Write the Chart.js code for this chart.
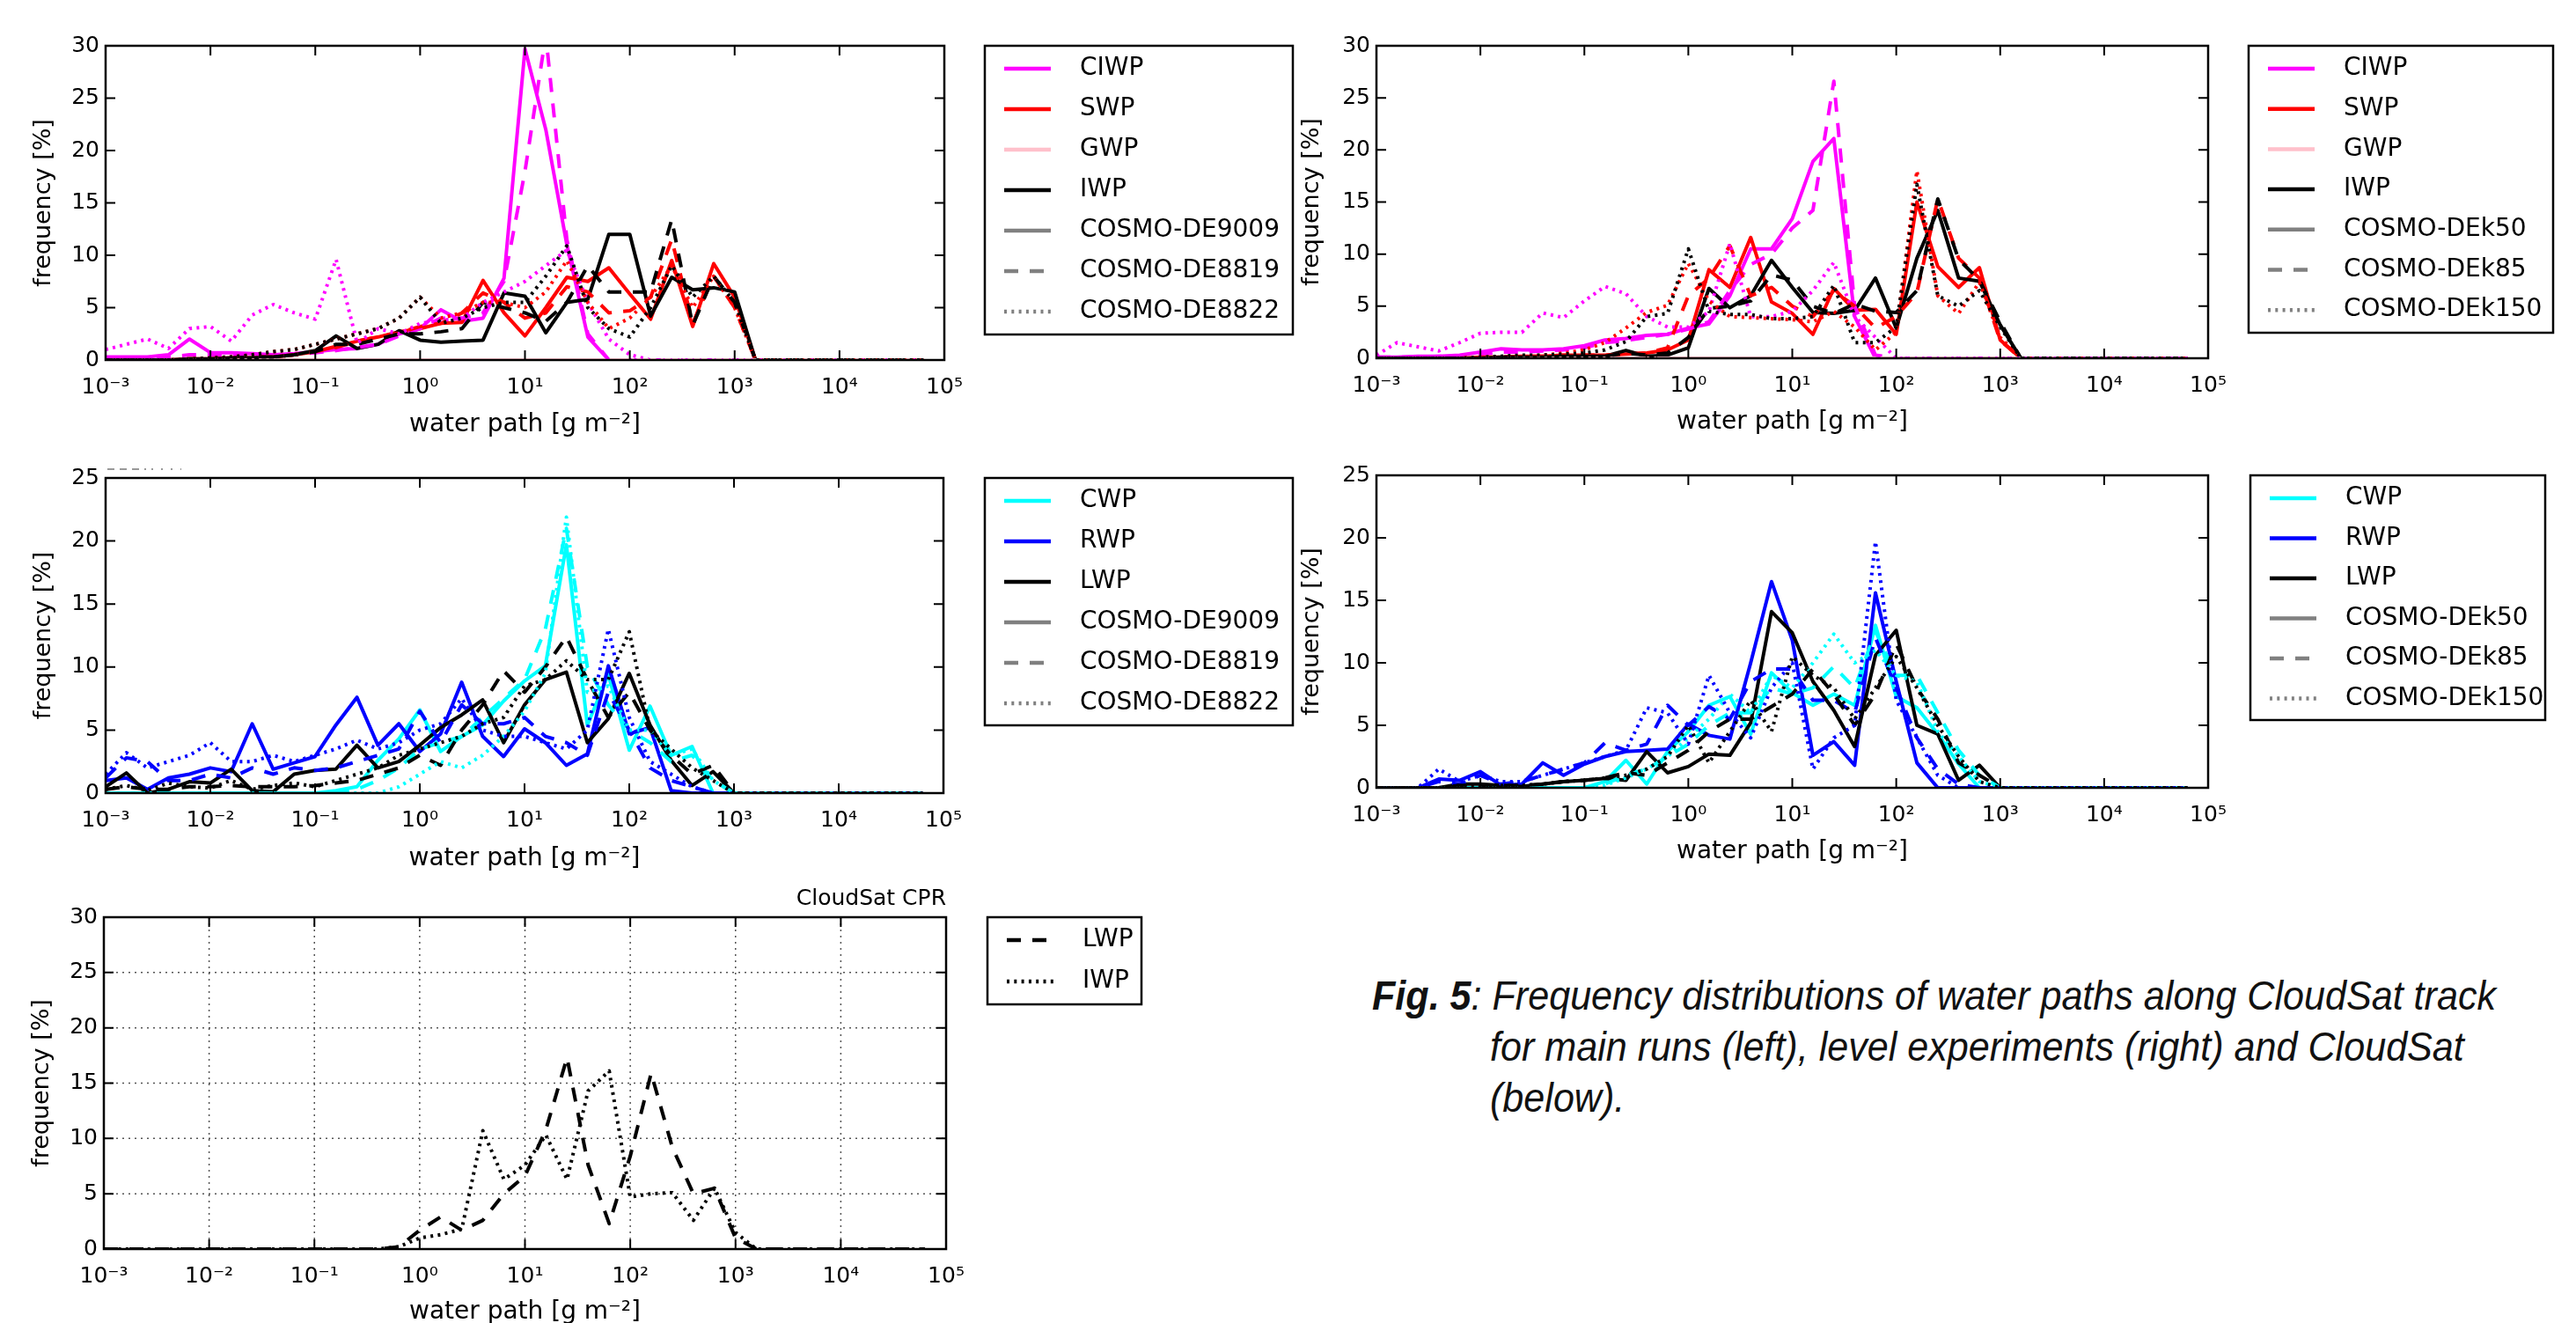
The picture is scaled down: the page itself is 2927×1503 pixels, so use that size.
<!DOCTYPE html>
<html>
<head>
<meta charset="utf-8">
<script src="https://cdn.jsdelivr.net/npm/chart.js@4.4.0/dist/chart.umd.min.js"></script>
<style>
  body { margin: 0; background: #fff; width: 2927px; height: 1503px; overflow: hidden; position: relative; }
  canvas { position: absolute; }
  .cl { position: absolute; white-space: nowrap; font-family: 'Liberation Sans Narrow', 'Liberation Sans', sans-serif;
        font-style: italic; font-size: 46px; line-height: 46px; color: #111; transform-origin: 0 0; }
</style>
</head>
<body>
<canvas id="p1" width="1500" height="510" style="left:0px;top:0px"></canvas>
<canvas id="p2" width="1482" height="510" style="left:1445px;top:0px"></canvas>
<canvas id="p3" width="1500" height="510" style="left:0px;top:490px"></canvas>
<canvas id="p4" width="1482" height="510" style="left:1445px;top:490px"></canvas>
<canvas id="p5" width="1500" height="540" style="left:0px;top:990px"></canvas>

<div class="cl" id="cap1" style="left:1559px;top:1108px"><b>Fig. 5</b>: Frequency distributions of water paths along CloudSat track</div>
<div class="cl" id="cap2" style="left:1693px;top:1166px">for main runs (left), level experiments (right) and CloudSat</div>
<div class="cl" id="cap3" style="left:1693px;top:1224px">(below).</div>

<script>
// bin centres, 5 per decade
const bins = [0.001, 0.00158, 0.00251, 0.00398, 0.00631, 0.01, 0.0158, 0.0251, 0.0398, 0.0631,
              0.1, 0.158, 0.251, 0.398, 0.631, 1, 1.58, 2.51, 3.98, 6.31,
              10, 15.8, 25.1, 39.8, 63.1, 100, 158, 251, 398, 631,
              1000, 1580, 2510, 3980, 6310, 10000, 15800, 25100, 39800, 63100];

const xTickValues = [0.001, 0.01, 0.1, 1, 10, 100, 1000, 10000, 100000];
const xTickLabels = ['10⁻³', '10⁻²', '10⁻¹', '10⁰', '10¹', '10²', '10³', '10⁴', '10⁵'];
const yTicks30 = [0, 5, 10, 15, 20, 25, 30];
const yTicks25 = [0, 5, 10, 15, 20, 25];

// ---- main runs, ice (top left)
const ciwp9009 = [0.3,0.3,0.3,0.5,2.0,0.7,0.7,0.6,0.5,0.6, 0.8,1.0,1.1,1.5,2.5,3.0,4.8,3.7,4.0,7.8, 29.7,22.0,11.0,2.2,0,0,0,0,0,0, 0,0,0,0,0,0,0,0,0,0];
const swp9009  = [0,0,0,0,0.1,0.1,0.2,0.2,0.3,0.5, 0.8,1.3,1.8,2.2,2.7,3.0,3.5,3.6,7.6,4.5, 2.3,5.0,7.9,7.5,8.8,6.3,3.9,9.5,3.2,9.2, 6.0,0,0,0,0,0,0,0,0,0];
const gwp9009  = [0,0,0,0,0,0,0,0,0,0, 0,0,0,0,0,0,0,0,0,0, 0,0,0,0,0,0,0,0,0,0, 0,0,0,0,0,0,0,0,0,0];
const iwp9009  = [0,0,0,0,0.1,0.1,0.2,0.2,0.3,0.5, 0.9,2.3,1.1,1.5,2.8,1.9,1.7,1.8,1.9,6.4, 6.1,2.6,5.5,5.8,12.0,12.0,4.2,7.9,6.7,6.9, 6.5,0,0,0,0,0,0,0,0,0];
const ciwp8819 = [0.2,0.2,0.2,0.3,0.5,0.5,0.5,0.4,0.4,0.5, 0.7,0.9,1.2,1.5,2.3,3.0,4.0,4.0,4.5,7.5, 18.0,31.0,11.5,2.5,0,0,0,0,0,0, 0,0,0,0,0,0,0,0,0,0];
const swp8819  = [0,0,0,0,0.1,0.1,0.2,0.3,0.3,0.5, 0.8,1.2,1.8,2.2,2.6,3.2,3.5,4.5,6.4,5.5, 4.0,4.5,7.0,6.5,4.5,4.7,6.0,11.5,3.5,8.0, 5.0,0,0,0,0,0,0,0,0,0];
const gwp8819  = [0,0,0,0,0,0,0,0,0,0, 0,0,0,0,0,0,0,0,0,0, 0,0,0,0,0,0,0,0,0,0, 0,0,0,0,0,0,0,0,0,0];
const iwp8819  = [0,0,0,0,0.1,0.1,0.2,0.3,0.3,0.5, 0.8,1.5,1.5,2.0,2.5,2.5,2.7,3.0,5.5,5.0, 4.5,3.7,5.5,9.0,6.5,6.5,6.5,13.4,3.3,8.0, 5.5,0,0,0,0,0,0,0,0,0];
const ciwp8822 = [1.0,1.5,2.0,1.1,3.0,3.2,1.8,4.3,5.3,4.5, 3.9,9.6,1.6,3.0,2.5,3.5,3.8,4.0,5.5,6.5, 7.5,9.0,10.5,5.5,2.0,0.5,0,0,0,0, 0,0,0,0,0,0,0,0,0,0];
const swp8822  = [0,0,0,0,0.1,0.2,0.3,0.5,0.8,1.0, 1.5,2.0,2.5,3.0,4.0,6.0,4.0,4.5,5.5,5.5, 5.0,6.5,9.5,5.5,3.0,4.0,6.0,9.0,5.0,8.0, 5.0,0,0,0,0,0,0,0,0,0];
const gwp8822  = [0,0,0,0,0,0,0,0,0,0, 0,0,0,0,0,0,0,0,0,0, 0,0,0,0,0,0,0,0,0,0, 0,0,0,0,0,0,0,0,0,0];
const iwp8822  = [0,0,0,0,0.1,0.2,0.3,0.5,0.8,1.0, 1.5,2.0,2.5,3.0,4.0,6.0,3.5,4.0,5.0,5.5, 5.5,8.0,10.9,5.0,3.0,2.2,5.0,9.0,6.0,8.0, 5.5,0,0,0,0,0,0,0,0,0];

// ---- level experiments, ice (top right)
const ciwpK50  = [0.1,0.1,0.2,0.2,0.3,0.6,0.9,0.8,0.8,0.9, 1.2,1.75,1.9,2.2,2.3,2.9,3.3,6.0,10.5,10.5, 13.4,18.9,21.1,4.0,0,0,0,0,0,0, 0,0,0,0,0,0,0,0,0,0];
const swpK50   = [0,0,0,0,0,0.1,0.1,0.2,0.2,0.3, 0.3,0.3,0.4,0.5,0.8,1.75,8.5,6.8,11.6,5.4, 4.3,2.3,6.7,4.6,4.7,2.3,15.0,8.8,6.8,8.7, 1.75,0,0,0,0,0,0,0,0,0];
const gwpK50   = [0,0,0,0,0,0,0,0,0,0, 0,0,0,0,0,0,0,0,0,0, 0,0,0,0,0,0,0,0,0,0, 0,0,0,0,0,0,0,0,0,0];
const iwpK50   = [0,0,0,0,0,0,0.1,0.1,0.1,0.2, 0.2,0.2,0.75,0.2,0.3,1.0,6.7,4.85,6.0,9.4, 6.8,4.4,4.3,4.6,7.7,2.9,9.6,14.2,7.7,7.4, 3.2,0,0,0,0,0,0,0,0,0];
const ciwpK85  = [0.1,0.1,0.1,0.2,0.2,0.4,0.6,0.6,0.7,0.8, 1.0,1.5,1.7,2.0,2.3,2.8,3.5,6.5,9.0,10.0, 12.5,14.2,26.6,5.0,0.3,0,0,0,0,0, 0,0,0,0,0,0,0,0,0,0];
const swpK85   = [0,0,0,0,0,0.1,0.1,0.2,0.2,0.3, 0.3,0.3,0.4,0.5,1.0,6.0,7.7,10.8,6.0,6.8, 5.0,4.0,6.5,5.0,2.9,4.0,6.3,15.3,9.6,7.7, 1.7,0,0,0,0,0,0,0,0,0];
const gwpK85   = [0,0,0,0,0,0,0,0,0,0, 0,0,0,0,0,0,0,0,0,0, 0,0,0,0,0,0,0,0,0,0, 0,0,0,0,0,0,0,0,0,0];
const iwpK85   = [0,0,0,0,0,0,0.1,0.1,0.1,0.2, 0.2,0.2,0.5,0.3,0.5,2.0,4.8,5.0,5.5,8.0, 7.5,5.0,4.3,5.2,4.5,4.4,6.5,15.3,9.5,7.5, 3.5,0,0,0,0,0,0,0,0,0];
const ciwpK150 = [0.3,1.5,1.1,0.7,1.5,2.4,2.5,2.5,4.35,3.9, 5.5,6.9,6.2,4.0,3.0,3.0,4.5,11.0,4.0,4.0, 4.5,6.5,9.2,4.0,2.0,0,0,0,0,0, 0,0,0,0,0,0,0,0,0,0];
const swpK150  = [0,0,0,0,0,0.1,0.1,0.2,0.3,0.5, 0.8,1.5,2.9,4.4,5.1,9.1,5.5,4.0,3.9,3.8, 3.7,3.5,4.5,3.0,0.8,2.5,18.0,6.0,4.3,7.3, 2.0,0,0,0,0,0,0,0,0,0];
const gwpK150  = [0,0,0,0,0,0,0,0,0,0, 0,0,0,0,0,0,0,0,0,0, 0,0,0,0,0,0,0,0,0,0, 0,0,0,0,0,0,0,0,0,0];
const iwpK150  = [0,0,0,0,0,0.1,0.2,0.3,0.3,0.4, 0.5,0.8,1.6,4.0,4.3,10.5,4.5,4.2,4.2,3.8, 3.8,4.0,7.0,1.5,1.5,3.0,16.7,6.0,5.0,6.5, 3.0,0,0,0,0,0,0,0,0,0];

// ---- main runs, liquid (middle left)
const cwp9009 = [0,0,0,0,0,0,0,0,0,0, 0,0.2,0.5,2.6,4.3,6.6,3.3,4.5,5.4,7.3, 8.9,10.1,19.7,5.4,9.4,3.4,6.9,3.0,3.7,0, 0,0,0,0,0,0,0,0,0,0];
const rwp9009 = [1.0,1.2,0.3,1.2,1.5,2.0,1.7,5.5,1.9,2.4, 2.9,5.4,7.6,3.8,5.5,3.3,4.7,8.8,4.5,2.9, 5.1,4.0,2.2,3.1,10.1,4.7,5.2,0.2,0,0, 0,0,0,0,0,0,0,0,0,0];
const lwp9009 = [0.5,1.6,0,0.3,0.9,0.8,1.9,0.2,0.1,1.5, 1.8,1.9,3.8,2.0,2.5,3.8,5.2,6.2,7.4,4.0, 7.0,9.0,9.6,4.0,5.9,9.5,5.4,2.6,0.6,1.7, 0,0,0,0,0,0,0,0,0,0];
const cwp8819 = [0,0,0,0,0,0,0,0,0,0, 0,0,0.3,1.0,2.0,3.5,4.0,4.5,6.0,7.5, 9.0,13.0,21.0,10.0,7.0,5.0,4.0,2.5,3.0,1.0, 0,0,0,0,0,0,0,0,0,0];
const rwp8819 = [1.2,2.8,2.5,1.0,1.0,1.5,1.2,2.0,1.5,2.0, 1.8,2.0,2.5,3.0,3.5,6.5,4.0,7.0,5.5,5.5, 6.0,4.5,4.0,3.0,8.0,5.0,2.0,1.0,0.5,0, 0,0,0,0,0,0,0,0,0,0];
const lwp8819 = [0.3,0.5,0.3,0.3,0.5,0.5,0.6,0.5,0.5,0.5, 0.6,0.8,1.0,1.5,2.0,3.0,2.2,5.0,7.0,9.7, 8.0,10.0,12.4,9.0,6.0,8.0,5.0,3.0,1.5,2.2, 0,0,0,0,0,0,0,0,0,0];
const cwp8822 = [0,0,0,0,0,0,0,0,0,0, 0,0,0,0,0.5,1.5,2.5,2.0,3.0,4.5, 6.5,9.5,21.9,8.0,8.5,5.0,5.0,3.0,3.5,1.0, 0,0,0,0,0,0,0,0,0,0];
const rwp8822 = [1.5,3.2,2.0,2.5,3.0,4.0,2.5,2.5,3.0,2.5, 3.0,3.5,4.2,3.5,4.0,5.0,5.5,7.5,5.0,4.5, 4.5,4.0,3.5,5.0,13.0,6.0,2.5,1.5,0.5,0, 0,0,0,0,0,0,0,0,0,0];
const lwp8822 = [0.3,0.6,0.2,0.8,0.5,0.4,1.0,0.3,0.6,0.8, 0.5,1.0,1.5,2.0,3.0,3.5,4.0,4.5,5.5,6.0, 8.5,9.0,10.5,9.0,9.0,12.8,5.0,3.5,2.0,1.0, 0,0,0,0,0,0,0,0,0,0];

// ---- level experiments, liquid (middle right)
const cwpK50  = [0,0,0,0,0,0,0,0,0,0, 0,0.5,2.2,0.3,2.9,4.5,6.6,7.3,4.3,9.2, 7.6,6.6,7.5,6.6,13.0,7.3,6.4,4.3,1.9,0, 0,0,0,0,0,0,0,0,0,0];
const rwpK50  = [0,0,0,0.7,0.6,1.3,0.2,0.3,2.0,1.0, 1.9,2.5,2.9,3.0,3.1,5.1,4.2,3.9,10.0,16.5, 11.8,2.6,3.7,1.8,15.6,8.5,2.0,0,0,0, 0,0,0,0,0,0,0,0,0,0];
const lwpK50  = [0,0,0,0,0.3,0.3,0.2,0.1,0.3,0.5, 0.6,0.75,0.6,2.9,1.2,1.7,2.7,2.6,5.2,14.1, 12.4,8.5,6.2,3.3,10.6,12.6,5.0,4.3,0.6,1.8, 0,0,0,0,0,0,0,0,0,0];
const cwpK85  = [0,0,0,0,0,0,0,0,0,0, 0,0.3,1.0,1.5,2.5,3.5,5.0,6.0,6.0,8.0, 7.5,8.0,9.7,8.0,12.5,9.0,9.0,6.0,3.0,1.0, 0,0,0,0,0,0,0,0,0,0];
const rwpK85  = [0,0,0,0.5,0.3,1.0,0.3,0.5,1.0,1.5, 2.0,3.6,3.0,3.5,6.6,5.0,6.5,5.5,8.5,9.5, 9.5,7.0,7.0,6.0,12.0,8.0,4.0,1.5,0.3,0, 0,0,0,0,0,0,0,0,0,0];
const lwpK85  = [0,0,0,0,0.2,0.2,0.2,0.2,0.3,0.5, 0.6,0.8,1.2,1.0,2.0,3.0,4.5,5.5,5.5,6.5, 7.5,9.5,7.5,5.0,7.5,11.5,8.0,5.5,2.0,1.0, 0,0,0,0,0,0,0,0,0,0];
const cwpK150 = [0,0,0,0,0,0,0,0,0,0, 0,0.2,0.8,1.5,2.5,4.0,5.5,7.5,6.0,9.0, 8.0,10.0,12.3,10.0,11.0,9.0,8.5,4.5,2.5,0.5, 0,0,0,0,0,0,0,0,0,0];
const rwpK150 = [0,0,0,1.5,0.5,1.0,0.5,0.5,1.0,1.5, 2.0,2.5,3.0,6.4,6.0,3.5,9.0,6.0,4.0,8.0, 10.0,1.5,4.0,5.0,19.7,7.0,4.0,1.0,0,0, 0,0,0,0,0,0,0,0,0,0];
const lwpK150 = [0,0,0,0,0.2,0.2,0.2,0.2,0.3,0.5, 0.6,0.8,1.0,1.5,2.5,5.0,2.0,4.5,7.0,4.5, 10.5,9.0,8.0,5.5,8.0,10.5,8.0,5.0,2.5,0.5, 0,0,0,0,0,0,0,0,0,0];

// ---- CloudSat CPR (bottom)
const lwpCPR = [0,0,0,0,0,0,0,0,0,0, 0,0,0,0,0.2,1.7,2.9,1.7,2.6,5.0, 6.6,10.8,17.3,7.6,2.3,8.4,15.9,9.2,5.0,5.5, 1.0,0,0,0,0,0,0,0,0,0];
const iwpCPR = [0,0,0,0,0,0,0,0,0,0, 0,0,0,0,0.2,1.0,1.3,1.8,10.7,6.3, 7.6,10.3,6.3,14.3,16.1,4.7,5.0,5.1,2.6,5.5, 1.5,0,0,0,0,0,0,0,0,0];

const iceNames = ['CIWP', 'SWP', 'GWP', 'IWP'];
const iceColors = ['#ff00ff', '#ff0000', '#ffc0cb', '#000000'];
const liqNames = ['CWP', 'RWP', 'LWP'];
const liqColors = ['#00ffff', '#0000ff', '#000000'];
const mainRuns = ['COSMO-DE9009', 'COSMO-DE8819', 'COSMO-DE8822'];
const levelRuns = ['COSMO-DEk50', 'COSMO-DEk85', 'COSMO-DEk150'];
const satNames = ['LWP', 'IWP'];

const SOLID = [], DASHED = [16, 13], DOTTED = [3, 5.3];
const runDashes = [SOLID, DASHED, DOTTED];

function series(vals, color, dash) {
  return {
    data: bins.map((b, i) => ({x: b, y: vals[i]})),
    borderColor: color, borderDash: dash, borderWidth: 4,
    pointRadius: 0, fill: false, tension: 0, borderJoinStyle: 'round'
  };
}
function runSets(list, colors, dash) {
  return list.map((v, i) => series(v, colors[i], dash));
}
function legendItems(names, colors, runs) {
  const items = names.map((n, i) => ({label: n, color: colors[i], dash: SOLID}));
  runs.forEach((r, i) => items.push({label: r, color: '#808080', dash: runDashes[i]}));
  return items;
}

// per-panel layout pieces that the plugins read
const extras = {};

const framePlugin = {
  id: 'frame',
  beforeDatasetsDraw(chart) {
    const ex = extras[chart.canvas.id];
    if (!ex.grid) return;
    const {ctx, chartArea: a, scales: {x, y}} = chart;
    ctx.save();
    ctx.strokeStyle = '#555';
    ctx.lineWidth = 1.5;
    ctx.setLineDash([2, 5]);
    ctx.beginPath();
    x.ticks.forEach(t => { const px = x.getPixelForValue(t.value); ctx.moveTo(px, a.top); ctx.lineTo(px, a.bottom); });
    y.ticks.forEach(t => { const py = y.getPixelForValue(t.value); ctx.moveTo(a.left, py); ctx.lineTo(a.right, py); });
    ctx.stroke();
    ctx.restore();
  },
  afterDatasetsDraw(chart) {
    const ex = extras[chart.canvas.id];
    const {ctx, chartArea: a, scales: {x, y}} = chart;
    ctx.save();
    ctx.strokeStyle = '#000';
    ctx.lineWidth = 2;
    ctx.beginPath();
    x.ticks.forEach(t => {
      const px = x.getPixelForValue(t.value);
      ctx.moveTo(px, a.bottom); ctx.lineTo(px, a.bottom - 11);
      ctx.moveTo(px, a.top); ctx.lineTo(px, a.top + 11);
    });
    y.ticks.forEach(t => {
      const py = y.getPixelForValue(t.value);
      ctx.moveTo(a.left, py); ctx.lineTo(a.left + 11, py);
      ctx.moveTo(a.right, py); ctx.lineTo(a.right - 11, py);
    });
    ctx.stroke();
    ctx.lineWidth = 2.5;
    ctx.strokeRect(a.left, a.top, a.right - a.left, a.bottom - a.top);
    if (ex.title) {
      ctx.font = '25px "DejaVu Sans"';
      ctx.fillStyle = '#000';
      ctx.textAlign = 'right';
      ctx.textBaseline = 'alphabetic';
      ctx.fillText(ex.title, a.right, a.top - 14);
    }
    if (ex.stray) {
      // leftover legend fragment above the middle-left panel
      ctx.strokeStyle = '#999';
      ctx.lineWidth = 2;
      ctx.beginPath();
      ctx.setLineDash([8, 6]);
      ctx.moveTo(a.left + 2, a.top - 10); ctx.lineTo(a.left + 46, a.top - 10);
      ctx.stroke();
      ctx.beginPath();
      ctx.setLineDash([2, 9]);
      ctx.moveTo(a.left + 52, a.top - 10); ctx.lineTo(a.left + 86, a.top - 10);
      ctx.stroke();
    }
    ctx.restore();
  }
};

const legendPlugin = {
  id: 'boxLegend',
  afterDraw(chart) {
    const lg = extras[chart.canvas.id].legend;
    const ctx = chart.ctx;
    const [x1, y1, x2, y2] = lg.box;
    ctx.save();
    ctx.lineWidth = 2.5;
    ctx.strokeStyle = '#000';
    ctx.strokeRect(x1, y1, x2 - x1, y2 - y1);
    ctx.font = '28px "DejaVu Sans"';
    ctx.fillStyle = '#000';
    ctx.textBaseline = 'middle';
    lg.items.forEach((it, i) => {
      const yy = lg.first + i * lg.step;
      ctx.beginPath();
      ctx.setLineDash(it.dash);
      ctx.strokeStyle = it.color;
      ctx.lineWidth = 4.5;
      ctx.moveTo(x1 + 22, yy); ctx.lineTo(x1 + 75, yy);
      ctx.stroke();
      ctx.setLineDash([]);
      ctx.fillText(it.label, x1 + 108, yy);
    });
    ctx.restore();
  }
};

function zeroPad(s) { s.paddingLeft = 0; s.paddingRight = 0; s.paddingTop = 0; s.paddingBottom = 0; }

Chart.defaults.font.family = '"DejaVu Sans"';
Chart.defaults.color = '#000';

function makePanel(id, o) {
  const cv = document.getElementById(id);
  extras[id] = {legend: o.legend, grid: o.grid, title: o.title, stray: o.stray};
  const n = o.datasets.length;
  o.datasets.forEach((d, k) => { d.order = n - k; });
  new Chart(cv, {
    type: 'line',
    data: {datasets: o.datasets},
    options: {
      responsive: false,
      animation: false,
      events: [],
      layout: {padding: {left: 0, top: o.area.top, right: cv.width - o.area.right, bottom: 0}},
      scales: {
        x: {
          type: 'logarithmic', min: 1e-3, max: 1e5,
          afterBuildTicks: s => { s.ticks = xTickValues.map(v => ({value: v})); },
          afterFit: s => { s.height = cv.height - o.area.bottom; zeroPad(s); },
          grid: {display: false, drawTicks: false},
          border: {display: false},
          ticks: {autoSkip: false, maxRotation: 0, padding: 16, font: {size: 25},
                  callback: (v, i) => xTickLabels[i]},
          title: {display: true, text: 'water path [g m⁻²]', font: {size: 28},
                  padding: {top: 0, bottom: o.xTitlePad}}
        },
        y: {
          min: 0, max: o.yTicks[o.yTicks.length - 1],
          afterBuildTicks: s => { s.ticks = o.yTicks.map(v => ({value: v})); },
          afterFit: s => { s.width = o.area.left; zeroPad(s); },
          grid: {display: false, drawTicks: false},
          border: {display: false},
          ticks: {padding: 7, font: {size: 25}},
          title: {display: true, text: 'frequency [%]', font: {size: 27},
                  padding: {top: o.yTitlePad, bottom: 0}}
        }
      },
      plugins: {legend: {display: false}, tooltip: {enabled: false}}
    },
    plugins: [framePlugin, legendPlugin]
  });
}

makePanel('p1', {
  area: {left: 120, top: 52, right: 1073, bottom: 409},
  xTitlePad: 10, yTitlePad: 34, yTicks: yTicks30,
  datasets: [...runSets([ciwp9009, swp9009, gwp9009, iwp9009], iceColors, SOLID),
             ...runSets([ciwp8819, swp8819, gwp8819, iwp8819], iceColors, DASHED),
             ...runSets([ciwp8822, swp8822, gwp8822, iwp8822], iceColors, DOTTED)],
  legend: {box: [1119, 52, 1469, 380], first: 78, step: 46, items: legendItems(iceNames, iceColors, mainRuns)}
});

makePanel('p2', {
  area: {left: 119, top: 52, right: 1064, bottom: 407},
  xTitlePad: 13, yTitlePad: 30, yTicks: yTicks30,
  datasets: [...runSets([ciwpK50, swpK50, gwpK50, iwpK50], iceColors, SOLID),
             ...runSets([ciwpK85, swpK85, gwpK85, iwpK85], iceColors, DASHED),
             ...runSets([ciwpK150, swpK150, gwpK150, iwpK150], iceColors, DOTTED)],
  legend: {box: [1110, 52, 1456, 378], first: 78, step: 45.7, items: legendItems(iceNames, iceColors, levelRuns)}
});

makePanel('p3', {
  area: {left: 120, top: 53, right: 1072, bottom: 411},
  xTitlePad: 7, yTitlePad: 34, yTicks: yTicks25, stray: true,
  datasets: [...runSets([cwp9009, rwp9009, lwp9009], liqColors, SOLID),
             ...runSets([cwp8819, rwp8819, lwp8819], liqColors, DASHED),
             ...runSets([cwp8822, rwp8822, lwp8822], liqColors, DOTTED)],
  legend: {box: [1119, 53, 1469, 334], first: 79, step: 46, items: legendItems(liqNames, liqColors, mainRuns)}
});

makePanel('p4', {
  area: {left: 119, top: 50, right: 1064, bottom: 405},
  xTitlePad: 15, yTitlePad: 30, yTicks: yTicks25,
  datasets: [...runSets([cwpK50, rwpK50, lwpK50], liqColors, SOLID),
             ...runSets([cwpK85, rwpK85, lwpK85], liqColors, DASHED),
             ...runSets([cwpK150, rwpK150, lwpK150], liqColors, DOTTED)],
  legend: {box: [1112, 50, 1447, 328], first: 76, step: 45.5, items: legendItems(liqNames, liqColors, levelRuns)}
});

makePanel('p5', {
  area: {left: 118, top: 52, right: 1075, bottom: 429},
  xTitlePad: 22, yTitlePad: 32, yTicks: yTicks30, grid: true, title: 'CloudSat CPR',
  datasets: [series(lwpCPR, '#000000', DASHED), series(iwpCPR, '#000000', DOTTED)],
  legend: {box: [1122, 52, 1297, 151], first: 78, step: 47,
           items: [{label: satNames[0], color: '#000', dash: DASHED}, {label: satNames[1], color: '#000', dash: DOTTED}]}
});

// squeeze the caption to the width of the printed one
function fitCaption() {
  const c1 = document.getElementById('cap1');
  c1.style.transform = 'none';
  const s = 1277 / c1.getBoundingClientRect().width;
  ['cap1', 'cap2', 'cap3'].forEach(id => { document.getElementById(id).style.transform = 'scaleX(' + s + ')'; });
}
fitCaption();
if (document.fonts) document.fonts.ready.then(fitCaption);
</script>
</body>
</html>
